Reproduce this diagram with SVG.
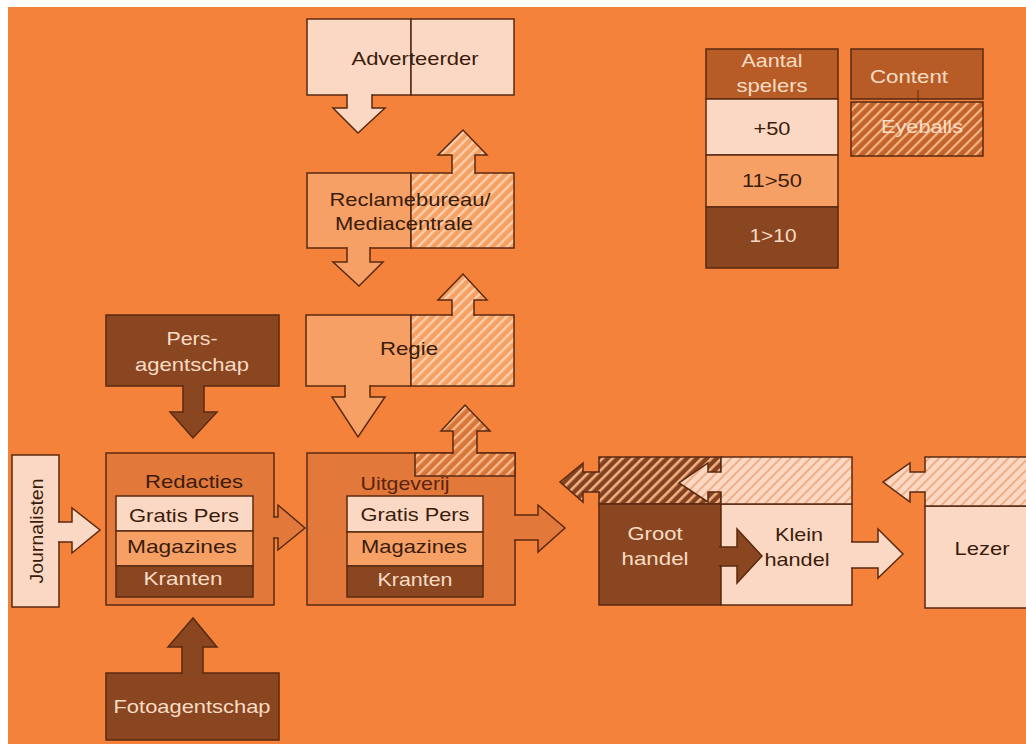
<svg xmlns="http://www.w3.org/2000/svg" width="1026" height="744" viewBox="0 0 1026 744">
<defs>
<style>
.t{font-family:"Liberation Sans",Arial,Helvetica,sans-serif;font-size:18.5px;text-anchor:middle;fill:#3a1c0c}
.w{fill:#f8dcc4}
.ol{stroke:#5a2a10;stroke-width:1.5;stroke-linejoin:miter}
.light{fill:#fbd8c3}
.med{fill:#f6a066}
.box{fill:#e2783a}
.dark{fill:#8a4621}
.hdr{fill:#b75c27}
</style>
<pattern id="hMed" width="7" height="7" patternUnits="userSpaceOnUse" patternTransform="rotate(45)"><rect width="7" height="7" fill="#f6a062"/><rect width="2.4" height="7" fill="#fbd0b0"/></pattern>
<pattern id="hLight" width="7" height="7" patternUnits="userSpaceOnUse" patternTransform="rotate(45)"><rect width="7" height="7" fill="#fbd8c3"/><rect width="2" height="7" fill="#f1ae84"/></pattern>
<pattern id="hDark" width="7" height="7" patternUnits="userSpaceOnUse" patternTransform="rotate(45)"><rect width="7" height="7" fill="#844220"/><rect width="2.6" height="7" fill="#f0b080"/></pattern>
<pattern id="hUit" width="7" height="7" patternUnits="userSpaceOnUse" patternTransform="rotate(45)"><rect width="7" height="7" fill="#d8763a"/><rect width="2.4" height="7" fill="#f6ba8c"/></pattern>
<pattern id="hEye" width="7" height="7" patternUnits="userSpaceOnUse" patternTransform="rotate(45)"><rect width="7" height="7" fill="#c4642c"/><rect width="2.2" height="7" fill="#f2b584"/></pattern>
</defs>
<rect x="0" y="0" width="1026" height="744" fill="#ffffff"/>
<rect x="8" y="7" width="1018" height="737" fill="#f4823b"/>

<g id="adverteerder">
<rect class="light ol" x="307" y="19" width="104" height="76"/>
<rect class="light ol" x="411" y="19" width="103" height="76"/>
<text class="t" x="415" y="65" textLength="127" lengthAdjust="spacingAndGlyphs">Adverteerder</text>
</g>

<g id="reclamebureau">
<rect class="med ol" x="307" y="173" width="104" height="75"/>
<rect class="ol" fill="url(#hMed)" x="411" y="173" width="103" height="75"/>
<text class="t" x="410" y="206" textLength="161" lengthAdjust="spacingAndGlyphs">Reclamebureau/</text>
<text class="t" x="404" y="230" textLength="138" lengthAdjust="spacingAndGlyphs">Mediacentrale</text>
</g>

<g id="regie">
<rect class="med ol" x="306" y="315" width="105" height="71"/>
<rect class="ol" fill="url(#hMed)" x="411" y="315" width="103" height="71"/>
<text class="t" x="409" y="355" textLength="58" lengthAdjust="spacingAndGlyphs">Regie</text>
</g>

<g id="persagentschap">
<rect class="dark ol" x="106" y="315" width="173" height="71"/>
<text class="t w" x="192" y="345" textLength="51" lengthAdjust="spacingAndGlyphs">Pers-</text>
<text class="t w" x="192" y="371" textLength="114" lengthAdjust="spacingAndGlyphs">agentschap</text>
</g>

<g id="fotoagentschap">
<rect class="dark ol" x="106" y="673" width="173" height="67"/>
<text class="t w" x="192" y="713" textLength="157" lengthAdjust="spacingAndGlyphs">Fotoagentschap</text>
</g>

<g id="journalisten">
<rect class="light ol" x="12" y="455" width="47" height="152"/>
<text class="t" transform="translate(43,531) rotate(-90)" x="0" y="0" textLength="105" lengthAdjust="spacingAndGlyphs">Journalisten</text>
</g>

<g id="redacties">
<rect class="box ol" x="106" y="453" width="168" height="152"/>
<text class="t" x="194" y="488" textLength="98" lengthAdjust="spacingAndGlyphs">Redacties</text>
<rect class="light ol" x="116" y="496" width="137" height="35"/>
<rect class="med ol" x="116" y="531" width="137" height="35"/>
<rect class="dark ol" x="116" y="566" width="137" height="31"/>
<text class="t" x="184" y="522" textLength="110" lengthAdjust="spacingAndGlyphs">Gratis Pers</text>
<text class="t" x="182" y="553" textLength="110" lengthAdjust="spacingAndGlyphs">Magazines</text>
<text class="t w" x="183" y="585" textLength="79" lengthAdjust="spacingAndGlyphs">Kranten</text>
</g>

<g id="uitgeverij">
<rect class="box ol" x="307" y="453" width="208" height="152"/>
<rect class="ol" fill="url(#hUit)" x="415" y="453" width="100" height="23"/>
<text class="t" x="405" y="490" style="fill:#5a2410" textLength="89" lengthAdjust="spacingAndGlyphs">Uitgeverij</text>
<rect class="light ol" x="347" y="496" width="136" height="36"/>
<rect class="med ol" x="347" y="532" width="136" height="34"/>
<rect class="dark ol" x="347" y="566" width="136" height="31"/>
<text class="t" x="415" y="521" textLength="109" lengthAdjust="spacingAndGlyphs">Gratis Pers</text>
<text class="t" x="414" y="553" textLength="106" lengthAdjust="spacingAndGlyphs">Magazines</text>
<text class="t w" x="415" y="586" textLength="75" lengthAdjust="spacingAndGlyphs">Kranten</text>
</g>

<g id="groothandel">
<rect class="ol" fill="url(#hDark)" x="599" y="457" width="122" height="47"/>
<rect class="dark ol" x="599" y="504" width="122" height="101"/>
<text class="t w" x="655" y="540" textLength="55" lengthAdjust="spacingAndGlyphs">Groot</text>
<text class="t w" x="655" y="565" textLength="67" lengthAdjust="spacingAndGlyphs">handel</text>
</g>

<g id="kleinhandel">
<rect class="light ol" x="721" y="504" width="131" height="101"/>
<path class="ol" fill="url(#hLight)" d="M721 504 L721 492 L708 492 L708 502 L679 483 L708 463 L708 472 L721 472 L721 457 L852 457 L852 504 Z"/>
<text class="t" x="799" y="541" textLength="48" lengthAdjust="spacingAndGlyphs">Klein</text>
<text class="t" x="797" y="566" textLength="65" lengthAdjust="spacingAndGlyphs">handel</text>
</g>

<g id="lezer">
<rect class="light ol" x="925" y="506" width="105" height="102"/>
<path class="ol" fill="url(#hLight)" d="M925 506 L925 492 L910 492 L910 502 L883 482 L910 463 L910 472 L925 472 L925 457 L1030 457 L1030 506 Z"/>
<text class="t" x="982" y="555" textLength="55" lengthAdjust="spacingAndGlyphs">Lezer</text>
</g>

<g id="legend">
<rect class="hdr ol" x="706" y="49" width="132" height="50"/>
<rect class="light ol" x="706" y="99" width="132" height="56"/>
<rect class="med ol" x="706" y="155" width="132" height="52"/>
<rect class="dark ol" x="706" y="207" width="132" height="61"/>
<text class="t w" x="772" y="67" textLength="61" lengthAdjust="spacingAndGlyphs">Aantal</text>
<text class="t w" x="772" y="92" textLength="71" lengthAdjust="spacingAndGlyphs">spelers</text>
<text class="t" x="772" y="135" textLength="37" lengthAdjust="spacingAndGlyphs">+50</text>
<text class="t" x="772" y="187" textLength="60" lengthAdjust="spacingAndGlyphs">11&gt;50</text>
<text class="t w" x="773" y="242" textLength="47" lengthAdjust="spacingAndGlyphs">1&gt;10</text>
<rect class="hdr ol" x="851" y="49" width="132" height="50"/>
<rect class="ol" fill="url(#hEye)" x="851" y="102" width="132" height="54"/>
<line x1="918" y1="90" x2="918" y2="102" stroke="#5a2a10" stroke-width="1"/>
<text class="t w" x="909" y="83" textLength="78" lengthAdjust="spacingAndGlyphs">Content</text>
<text class="t w" x="922" y="133" textLength="82" lengthAdjust="spacingAndGlyphs">Eyeballs</text>
</g>

<g id="connectors" class="ol">
<path class="light" d="M347 94 L347 108 L333 108 L358 133 L385 108 L372 108 L372 94"/>
<path fill="url(#hMed)" d="M452 174 L452 155 L438 155 L463 130 L487 155 L475 155 L475 174"/>
<path class="med" d="M347 247 L347 262 L333 262 L359 286 L383 262 L370 262 L370 247"/>
<path fill="url(#hMed)" d="M452 316 L452 300 L438 300 L463 274 L487 300 L474 300 L474 316"/>
<path class="med" d="M345 385 L345 397 L332 397 L358 437 L385 397 L370 397 L370 385"/>
<path fill="url(#hUit)" d="M453 454 L453 431 L441 431 L465 405 L490 431 L477 431 L477 454"/>
<path class="dark" d="M183 385 L183 412 L170 412 L193 438 L217 412 L204 412 L204 385"/>
<path class="dark" d="M182 674 L182 647 L168 647 L193 618 L217 647 L203 647 L203 674"/>
<path class="light" d="M58 522 L72 522 L72 508 L100 530 L72 553 L72 542 L58 542"/>
<path class="box" d="M273 517 L278 517 L278 505 L305 528 L278 550 L278 538 L273 538"/>
<path class="box" d="M514 515 L538 515 L538 505 L565 528 L538 552 L538 540 L514 540"/>
<path fill="url(#hDark)" d="M600 492 L583 492 L583 502 L560 482 L583 463 L583 472 L600 472"/>
<path class="dark" d="M719 547 L737 547 L737 529 L762 556 L737 583 L737 566 L719 566"/>
<path class="light" d="M851 542 L878 542 L878 529 L903 554 L878 578 L878 568 L851 568"/>
</g>
</svg>
